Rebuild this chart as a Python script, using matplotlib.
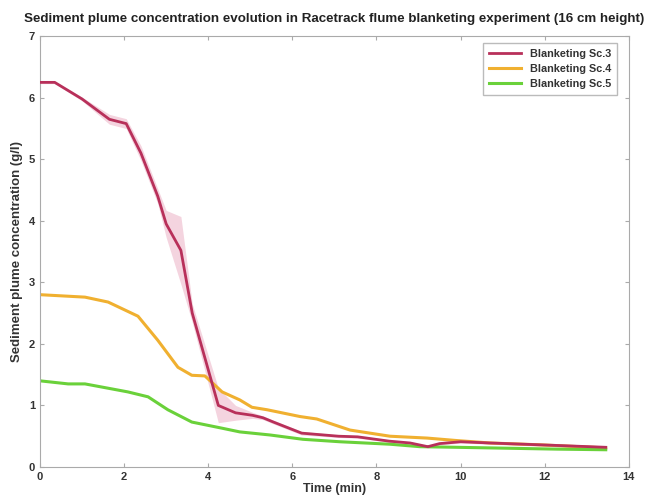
import matplotlib
matplotlib.use("Agg")
import matplotlib.pyplot as plt
import numpy as np

plt.rcParams['font.family'] = ['Liberation Sans', 'DejaVu Sans']

# Time axis (min) and mean concentrations (g/l) per scenario
t_sc3 = [0.0, 0.35, 1.0, 1.65, 2.05, 2.4, 2.8, 3.0, 3.35, 3.62, 4.24, 4.65, 5.05, 5.3, 5.55, 6.22, 7.1, 7.55, 8.3, 8.8, 9.22, 9.5, 10.0, 10.7, 11.9, 13.45]
c_sc3 = [6.25, 6.25, 5.98, 5.65, 5.58, 5.1, 4.4, 3.95, 3.52, 2.5, 1.0, 0.88, 0.84, 0.8, 0.73, 0.55, 0.5, 0.49, 0.42, 0.39, 0.33, 0.38, 0.41, 0.39, 0.36, 0.32]
# Spread around the Sc.3 mean (g/l)
s_sc3 = [0.02, 0.02, 0.03, 0.08, 0.08, 0.12, 0.12, 0.22, 0.55, 0.15, 0.28, 0.12, 0.05, 0.03, 0.03, 0.03, 0.02, 0.02, 0.02, 0.02, 0.02, 0.02, 0.02, 0.02, 0.02, 0.02]

t_sc4 = [0.0, 1.07, 1.62, 2.33, 2.8, 3.28, 3.61, 3.92, 4.33, 4.75, 5.04, 5.4, 6.18, 6.58, 7.37, 8.32, 9.2, 9.9, 10.7, 11.9, 13.45]
c_sc4 = [2.8, 2.76, 2.68, 2.45, 2.06, 1.62, 1.49, 1.48, 1.22, 1.09, 0.97, 0.93, 0.82, 0.78, 0.6, 0.5, 0.47, 0.43, 0.39, 0.36, 0.31]

t_sc5 = [0.0, 0.67, 1.07, 1.62, 2.09, 2.57, 3.04, 3.61, 4.33, 4.75, 5.04, 5.47, 6.25, 7.13, 8.32, 9.03, 9.9, 12.3, 13.45]
c_sc5 = [1.4, 1.35, 1.35, 1.28, 1.22, 1.14, 0.93, 0.73, 0.63, 0.57, 0.55, 0.52, 0.45, 0.41, 0.37, 0.33, 0.32, 0.29, 0.28]

labels = ["Blanketing Sc.3", "Blanketing Sc.4", "Blanketing Sc.5"]
colors = ["#b8305a", "#f0b030", "#6ad13a"]

x_ticks = [0, 2, 4, 6, 8, 10, 12, 14]
y_ticks = [0, 1, 2, 3, 4, 5, 6, 7]

fig = plt.figure(figsize=(6.49, 5.03), dpi=100)
ax = fig.add_axes([0.0616, 0.0716, 0.9074, 0.8564])

lo = np.array(c_sc3) - np.array(s_sc3)
hi = np.array(c_sc3) + np.array(s_sc3)
ax.fill_between(t_sc3, lo, hi, color="#e8a0b8", alpha=0.45, linewidth=0)

ax.plot(t_sc3, c_sc3, color=colors[0], lw=2.0, label=labels[0], zorder=3)
ax.plot(t_sc4, c_sc4, color=colors[1], lw=2.2, label=labels[1], zorder=2)
ax.plot(t_sc5, c_sc5, color=colors[2], lw=2.2, label=labels[2], zorder=2)

ax.set_xlim(0, 14)
ax.set_ylim(0, 7)
ax.set_xticks(x_ticks)
ax.set_yticks(y_ticks)
ax.tick_params(direction="in", length=3, top=True, right=True, colors="#aaaaaa",
               labelcolor="#333333", labelsize=8)
for lab in ax.get_xticklabels() + ax.get_yticklabels():
    lab.set_fontweight("bold")
for sp in ax.spines.values():
    sp.set_color("#aaaaaa")
    sp.set_linewidth(0.8)

ax.set_xlabel("Time (min)", fontsize=9, fontweight="bold", color="#333333", labelpad=1)
ax.set_ylabel("Sediment plume concentration (g/l)", fontsize=9.5, fontweight="bold", color="#333333", labelpad=4)
ax.set_title("Sediment plume concentration evolution in Racetrack flume blanketing experiment (16 cm height)",
             fontsize=9.6, fontweight="bold", color="#222222", pad=10)

leg = ax.legend(loc="upper right", prop={"size": 7.8, "weight": "bold"}, frameon=True, fancybox=False,
                edgecolor="#aaaaaa", borderpad=0.55, handlelength=3.0, labelspacing=0.45,
                borderaxespad=0, bbox_to_anchor=(0.98, 0.984))
for txt in leg.get_texts():
    txt.set_color("#333333")

fig.savefig("out.png", dpi=100)
